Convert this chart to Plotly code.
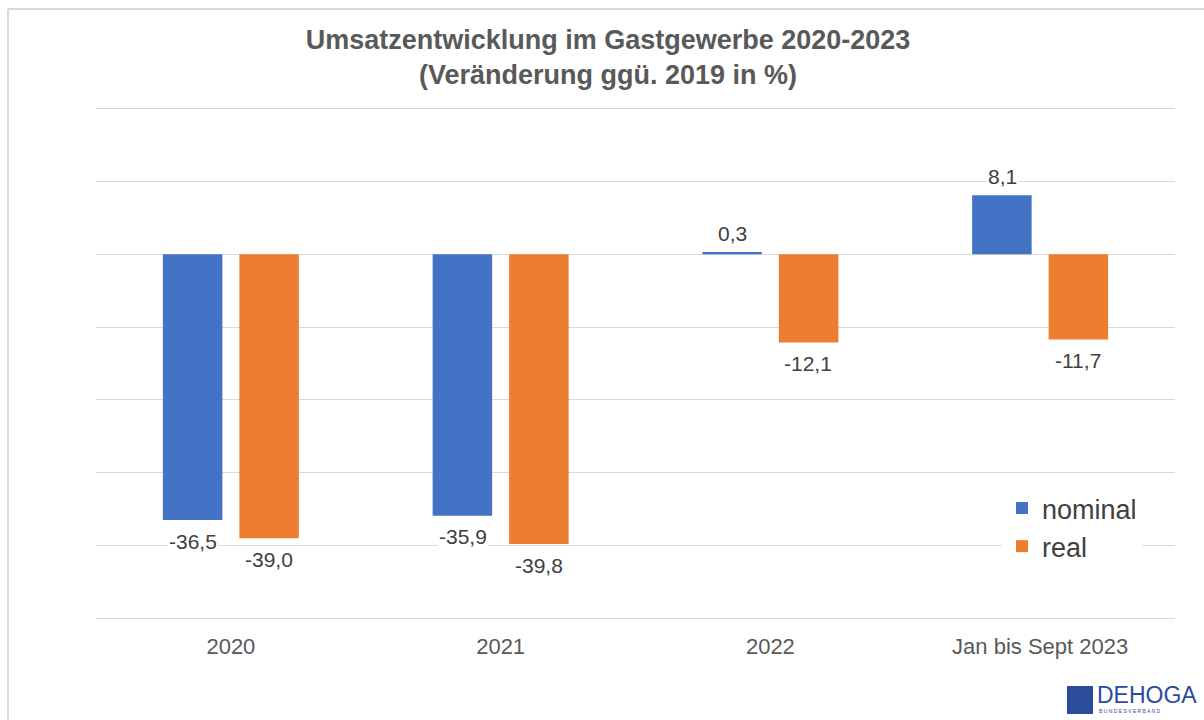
import plotly.graph_objects as go

categories = ["2020", "2021", "2022", "Jan bis Sept 2023"]
nominal = [-36.5, -35.9, 0.3, 8.1]
real = [-39.0, -39.8, -12.1, -11.7]
series_names = ["nominal", "real"]
colors = ["#4472C4", "#ED7D31"]
title_lines = ["Umsatzentwicklung im Gastgewerbe 2020-2023", "(Veränderung ggü. 2019 in %)"]

def fmt(v):
    return f"{v:.1f}".replace(".", ",")

fig = go.Figure()
for name, vals, col in zip(series_names, [nominal, real], colors):
    fig.add_trace(go.Bar(x=categories, y=vals, name=name, marker=dict(color=col, line=dict(width=0))))

slot_px = 38
for i, vals in enumerate([nominal, real]):
    shift = -slot_px if i == 0 else slot_px
    for ci, v in enumerate(vals):
        fig.add_annotation(x=ci, y=v, xref="x", yref="y", text=fmt(v), showarrow=False,
                           xshift=shift, yshift=(19 if v >= 0 else -21), yanchor="middle",
                           font=dict(family="Liberation Sans, Arial", size=21, color="#404040"),
                           bgcolor="white", borderpad=1)

T, B, L, R = 105, 98, 96, 29
PH = 720 - T - B
PW = 1204 - L - R
fig.update_layout(
    width=1204, height=720,
    paper_bgcolor="white", plot_bgcolor="white",
    margin=dict(l=L, r=R, t=T, b=B),
    title=dict(text="<b>" + "<br>".join(title_lines) + "</b>", x=0.505, xanchor="center",
               y=0.932, yanchor="top",
               font=dict(family="Liberation Sans, Arial", size=27, color="#595959")),
    barmode="group", bargap=0.433, bargroupgap=0.222,
    showlegend=True,
    legend=dict(x=(1002 - L) / PW, y=(720 - B - 484) / PH, xanchor="left", yanchor="top",
                bgcolor="white",
                font=dict(family="Liberation Sans, Arial", size=27, color="#404040"),
                itemsizing="constant", tracegroupgap=3, itemwidth=30),
    xaxis=dict(type="category", range=[-0.5, 3.5], showgrid=False, showline=False, ticks="",
               zeroline=False, ticklabelstandoff=9,
               tickfont=dict(family="Liberation Sans, Arial", size=22, color="#595959")),
    yaxis=dict(range=[-50.5, 20.5], dtick=10, showticklabels=False, showgrid=True,
               gridcolor="#d9d9d9", gridwidth=1, zeroline=True, zerolinecolor="#d9d9d9",
               zerolinewidth=1, showline=False),
)

def px_y(py):
    return (720 - B - py) / PH

def px_x(pxx):
    return (pxx - L) / PW

top_y = px_y(9)
left_x = px_x(8)
fig.add_shape(type="line", xref="paper", yref="paper", x0=left_x, x1=px_x(1210), y0=top_y, y1=top_y,
              line=dict(color="#d9d9d9", width=2), layer="below")
fig.add_shape(type="line", xref="paper", yref="paper", x0=left_x, x1=left_x, y0=px_y(725), y1=top_y,
              line=dict(color="#d9d9d9", width=2), layer="below")

# logo
fig.add_shape(type="rect", xref="paper", yref="paper",
              x0=px_x(1067), x1=px_x(1093), y0=px_y(714), y1=px_y(686),
              fillcolor="#2B4C9B", line=dict(width=0))
fig.add_annotation(xref="paper", yref="paper", x=px_x(1095), y=px_y(695), xanchor="left",
                   yanchor="middle", text="DEHOGA", showarrow=False,
                   font=dict(family="Liberation Sans, Arial", size=23, color="#2B4C9B"))
fig.add_annotation(xref="paper", yref="paper", x=px_x(1097), y=px_y(711), xanchor="left",
                   yanchor="middle", text="B U N D E S V E R B A N D", showarrow=False,
                   font=dict(family="Liberation Sans, Arial", size=5, color="#2B4C9B"))

fig.write_html("out.html", config={"displayModeBar": False},
               post_script="document.body.style.margin='0';")
